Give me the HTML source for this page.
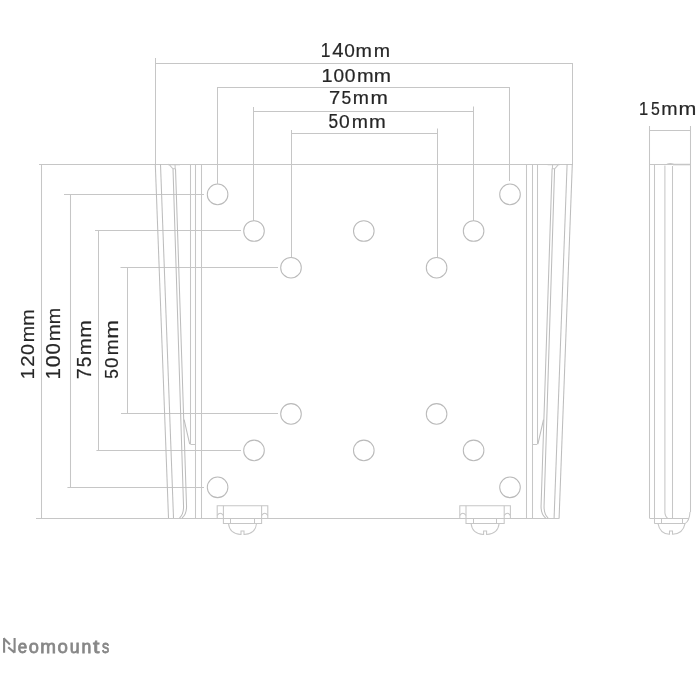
<!DOCTYPE html>
<html><head><meta charset="utf-8"><style>
html,body{margin:0;padding:0;background:#fff;width:700px;height:700px;overflow:hidden}
svg{display:block;will-change:transform}
.l{fill:none;stroke:#c6c6c6;stroke-width:1.05}
.c{fill:none;stroke:#bababa;stroke-width:1.05}
.s{fill:none;stroke:#bdbdbd;stroke-width:1.05}
.t{font-family:"Liberation Sans",sans-serif;fill:#262626;stroke:#262626;stroke-width:0.2}
.logo{font-family:"Liberation Sans",sans-serif;font-weight:normal;fill:#878787;stroke:#878787;stroke-width:0.8}
</style></head><body>
<svg width="700" height="700" viewBox="0 0 700 700">
<line x1="155.5" y1="58" x2="155.5" y2="164.3" class="l"/>
<line x1="572.5" y1="63" x2="572.5" y2="164.3" class="l"/>
<line x1="155" y1="63.5" x2="573" y2="63.5" class="l"/>
<line x1="217" y1="87.5" x2="509.5" y2="87.5" class="l"/>
<line x1="217.5" y1="87" x2="217.5" y2="183.8" class="l"/>
<line x1="509.5" y1="87" x2="509.5" y2="181" class="l"/>
<line x1="253.5" y1="111.5" x2="474" y2="111.5" class="l"/>
<line x1="253.5" y1="107" x2="253.5" y2="220.8" class="l"/>
<line x1="473.5" y1="106.5" x2="473.5" y2="220.8" class="l"/>
<line x1="291" y1="133.5" x2="437.5" y2="133.5" class="l"/>
<line x1="291.5" y1="130" x2="291.5" y2="257.2" class="l"/>
<line x1="437.5" y1="128.5" x2="437.5" y2="257.2" class="l"/>
<line x1="39" y1="164.5" x2="573" y2="164.5" class="l"/>
<line x1="36" y1="518.5" x2="559.5" y2="518.5" class="l"/>
<line x1="41.5" y1="164" x2="41.5" y2="518.0" class="l"/>
<line x1="64" y1="194.5" x2="204" y2="194.5" class="l"/>
<line x1="70.5" y1="194.4" x2="70.5" y2="487.3" class="l"/>
<line x1="67.4" y1="487.5" x2="204" y2="487.5" class="l"/>
<line x1="95" y1="230.5" x2="241" y2="230.5" class="l"/>
<line x1="98.5" y1="230.9" x2="98.5" y2="450.4" class="l"/>
<line x1="96.4" y1="450.5" x2="241" y2="450.5" class="l"/>
<line x1="120.5" y1="267.5" x2="278" y2="267.5" class="l"/>
<line x1="127.5" y1="267.9" x2="127.5" y2="413.9" class="l"/>
<line x1="121" y1="413.5" x2="278" y2="413.5" class="l"/>
<circle cx="217.6" cy="194.4" r="10.3" class="c"/>
<circle cx="510" cy="194.4" r="10.3" class="c"/>
<circle cx="254" cy="231.0" r="10.3" class="c"/>
<circle cx="363.8" cy="231.0" r="10.3" class="c"/>
<circle cx="473.6" cy="231.0" r="10.3" class="c"/>
<circle cx="291" cy="267.7" r="10.3" class="c"/>
<circle cx="436.6" cy="267.7" r="10.3" class="c"/>
<circle cx="291" cy="413.9" r="10.3" class="c"/>
<circle cx="436.6" cy="413.9" r="10.3" class="c"/>
<circle cx="254" cy="450.4" r="10.3" class="c"/>
<circle cx="363.8" cy="450.4" r="10.3" class="c"/>
<circle cx="473.6" cy="450.4" r="10.3" class="c"/>
<circle cx="217.6" cy="487.3" r="10.3" class="c"/>
<circle cx="510" cy="487.3" r="10.3" class="c"/>
<line x1="155.3" y1="164.3" x2="168.5" y2="518.0" class="s"/>
<line x1="160.5" y1="164.3" x2="173.5" y2="518.0" class="s"/>
<path d="M173,168.5 L183.5,505 Q184,514 179.5,518" class="s"/>
<path d="M175.5,168.5 L186.5,505 Q187,514 182,518" class="s"/>
<path d="M168.5,164 L172.8,168.7 M175,164 L175.2,168.7 M172.8,168.7 L175.4,168.7 M168,164.8 L180,164.8" class="l"/>
<line x1="190.5" y1="164.3" x2="190.5" y2="444.2" class="l"/>
<line x1="190.5" y1="444.5" x2="195.5" y2="444.5" class="l"/>
<path d="M184.1,419.7 L189.7,444.2" class="s"/>
<line x1="195.5" y1="164.3" x2="195.5" y2="518.0" class="l"/>
<line x1="201.5" y1="164.3" x2="201.5" y2="518.0" class="l"/>
<line x1="572.3" y1="164.3" x2="559.1" y2="518.0" class="s"/>
<line x1="567.1" y1="164.3" x2="554.1" y2="518.0" class="s"/>
<path d="M554.6,168.5 L544.1,505 Q543.6,514 548.1,518" class="s"/>
<path d="M552.1,168.5 L541.1,505 Q540.6,514 545.6,518" class="s"/>
<path d="M559.1,164 L554.8,168.7 M552.6,164 L552.4,168.7 M554.8,168.7 L552.2,168.7 M559.6,164.8 L547.6,164.8" class="l"/>
<line x1="537.5" y1="164.3" x2="537.5" y2="444.2" class="l"/>
<line x1="537.1" y1="444.5" x2="532.1" y2="444.5" class="l"/>
<path d="M543.5,419.7 L537.9,444.2" class="s"/>
<line x1="532.5" y1="164.3" x2="532.5" y2="518.0" class="l"/>
<line x1="526.5" y1="164.3" x2="526.5" y2="518.0" class="l"/>
<path d="M217.2,518.0 L217.2,505.8 L267.8,505.8 L267.8,518.0" class="l"/>
<path d="M217.2,515.5 Q220.2,511 223.4,515.5" class="l"/>
<path d="M267.8,515.5 Q264.8,511 261.6,515.5" class="l"/>
<path d="M223.4,505.8 L223.4,523.5 L261.6,523.5 L261.6,505.8" class="l"/>
<line x1="230.5" y1="518.0" x2="230.5" y2="523.5" class="l"/>
<line x1="254.5" y1="518.0" x2="254.5" y2="523.5" class="l"/>
<path d="M228.5,523.5 Q229.5,534 241.0,534.5 L241.0,531 L244.0,531 L244.0,534.5 Q255.5,534 256.5,523.5" class="l"/>
<path d="M459.8,518.0 L459.8,505.8 L510.40000000000003,505.8 L510.40000000000003,518.0" class="l"/>
<path d="M459.8,515.5 Q462.8,511 466.0,515.5" class="l"/>
<path d="M510.40000000000003,515.5 Q507.40000000000003,511 504.20000000000005,515.5" class="l"/>
<path d="M466.0,505.8 L466.0,523.5 L504.20000000000005,523.5 L504.20000000000005,505.8" class="l"/>
<line x1="473.5" y1="518.0" x2="473.5" y2="523.5" class="l"/>
<line x1="496.5" y1="518.0" x2="496.5" y2="523.5" class="l"/>
<path d="M471.1,523.5 Q472.1,534 483.6,534.5 L483.6,531 L486.6,531 L486.6,534.5 Q498.1,534 499.1,523.5" class="l"/>
<line x1="649.5" y1="126" x2="649.5" y2="518.0" class="l"/>
<line x1="690.5" y1="126" x2="690.5" y2="512" class="l"/>
<line x1="649.4" y1="130.5" x2="690" y2="130.5" class="l"/>
<line x1="649.4" y1="164.5" x2="690" y2="164.5" class="l"/>
<line x1="654.5" y1="164.3" x2="654.5" y2="523.6" class="l"/>
<path d="M664.9,165.5 L664.9,513 Q665.5,517 667.5,518" class="l"/>
<line x1="672.5" y1="166" x2="672.5" y2="518.0" class="l"/>
<path d="M690,512 Q689.5,521 685,523.6" class="l"/>
<line x1="649.4" y1="518.5" x2="689" y2="518.5" class="l"/>
<line x1="654.4" y1="523.5" x2="685" y2="523.5" class="l"/>
<line x1="661.5" y1="518.0" x2="661.5" y2="523.6" class="l"/>
<line x1="682.5" y1="518.0" x2="682.5" y2="523.6" class="l"/>
<path d="M658,523.6 Q660,534 669.5,534.2 L669.5,531 L672.5,531 L672.5,534.2 Q683,534 685,523.6" class="l"/>
<path d="M667,164.3 Q670,162.6 674,164.3 L690,164.3" class="l"/>
<path d="M673,164.8 L690,164.8" class="l"/>
<text x="320.72" y="56.7" textLength="9.67" lengthAdjust="spacingAndGlyphs" class="t" font-size="19.33">1</text>
<text x="332.29" y="56.7" textLength="11.26" lengthAdjust="spacingAndGlyphs" class="t" font-size="19.33">4</text>
<text x="344.31" y="56.7" textLength="10.59" lengthAdjust="spacingAndGlyphs" class="t" font-size="19.05">0</text>
<text x="355.54" y="56.7" textLength="16.41" lengthAdjust="spacingAndGlyphs" class="t" font-size="18.21">m</text>
<text x="373.85" y="56.7" textLength="16.29" lengthAdjust="spacingAndGlyphs" class="t" font-size="18.21">m</text>
<text x="321.53" y="82.0" textLength="11.09" lengthAdjust="spacingAndGlyphs" class="t" font-size="18.75">1</text>
<text x="333.61" y="82.0" textLength="10.59" lengthAdjust="spacingAndGlyphs" class="t" font-size="18.47">0</text>
<text x="344.80" y="82.0" textLength="10.70" lengthAdjust="spacingAndGlyphs" class="t" font-size="18.47">0</text>
<text x="357.12" y="82.0" textLength="16.64" lengthAdjust="spacingAndGlyphs" class="t" font-size="18.21">m</text>
<text x="373.68" y="82.0" textLength="17.24" lengthAdjust="spacingAndGlyphs" class="t" font-size="18.21">m</text>
<text x="329.11" y="104.4" textLength="11.26" lengthAdjust="spacingAndGlyphs" class="t" font-size="18.31">7</text>
<text x="341.55" y="104.4" textLength="9.74" lengthAdjust="spacingAndGlyphs" class="t" font-size="18.31">5</text>
<text x="352.66" y="104.4" textLength="16.17" lengthAdjust="spacingAndGlyphs" class="t" font-size="18.21">m</text>
<text x="370.47" y="104.4" textLength="17.36" lengthAdjust="spacingAndGlyphs" class="t" font-size="18.21">m</text>
<text x="328.46" y="127.8" textLength="9.62" lengthAdjust="spacingAndGlyphs" class="t" font-size="19.48">5</text>
<text x="339.10" y="127.8" textLength="10.70" lengthAdjust="spacingAndGlyphs" class="t" font-size="19.19">0</text>
<text x="351.66" y="127.8" textLength="16.17" lengthAdjust="spacingAndGlyphs" class="t" font-size="18.21">m</text>
<text x="369.11" y="127.8" textLength="16.76" lengthAdjust="spacingAndGlyphs" class="t" font-size="18.21">m</text>
<text x="639.10" y="115.4" textLength="9.16" lengthAdjust="spacingAndGlyphs" class="t" font-size="18.60">1</text>
<text x="651.12" y="115.4" textLength="8.80" lengthAdjust="spacingAndGlyphs" class="t" font-size="18.60">5</text>
<text x="661.25" y="115.4" textLength="16.29" lengthAdjust="spacingAndGlyphs" class="t" font-size="18.21">m</text>
<text x="678.63" y="115.4" textLength="17.83" lengthAdjust="spacingAndGlyphs" class="t" font-size="18.21">m</text>
<g transform="translate(33.5 378.6) rotate(-90)"><text x="-0.92" y="0" textLength="11.48" lengthAdjust="spacingAndGlyphs" class="t" font-size="19.19">1</text><text x="11.82" y="0" textLength="11.35" lengthAdjust="spacingAndGlyphs" class="t" font-size="18.90">2</text><text x="23.58" y="0" textLength="10.94" lengthAdjust="spacingAndGlyphs" class="t" font-size="18.90">0</text><text x="36.24" y="0" textLength="16.41" lengthAdjust="spacingAndGlyphs" class="t" font-size="18.21">m</text><text x="52.74" y="0" textLength="16.41" lengthAdjust="spacingAndGlyphs" class="t" font-size="18.21">m</text></g>
<g transform="translate(59.5 378.6) rotate(-90)"><text x="-0.92" y="0" textLength="11.48" lengthAdjust="spacingAndGlyphs" class="t" font-size="20.06">1</text><text x="11.42" y="0" textLength="11.75" lengthAdjust="spacingAndGlyphs" class="t" font-size="19.76">0</text><text x="24.06" y="0" textLength="11.29" lengthAdjust="spacingAndGlyphs" class="t" font-size="19.76">0</text><text x="37.29" y="0" textLength="17.00" lengthAdjust="spacingAndGlyphs" class="t" font-size="18.21">m</text><text x="54.34" y="0" textLength="16.41" lengthAdjust="spacingAndGlyphs" class="t" font-size="18.21">m</text></g>
<g transform="translate(90.6 378.6) rotate(-90)"><text x="-0.77" y="0" textLength="11.01" lengthAdjust="spacingAndGlyphs" class="t" font-size="19.33">7</text><text x="11.38" y="0" textLength="10.67" lengthAdjust="spacingAndGlyphs" class="t" font-size="19.33">5</text><text x="23.29" y="0" textLength="17.00" lengthAdjust="spacingAndGlyphs" class="t" font-size="18.21">m</text><text x="40.95" y="0" textLength="17.59" lengthAdjust="spacingAndGlyphs" class="t" font-size="18.21">m</text></g>
<g transform="translate(117.6 378.6) rotate(-90)"><text x="-0.04" y="0" textLength="9.62" lengthAdjust="spacingAndGlyphs" class="t" font-size="18.75">5</text><text x="10.51" y="0" textLength="10.47" lengthAdjust="spacingAndGlyphs" class="t" font-size="18.47">0</text><text x="23.39" y="0" textLength="15.81" lengthAdjust="spacingAndGlyphs" class="t" font-size="18.21">m</text><text x="39.85" y="0" textLength="18.78" lengthAdjust="spacingAndGlyphs" class="t" font-size="18.21">m</text></g>
<path d="M4.1,637.9 V652.7 M14.6,637.9 V652.7 M3.6,638.2 L10,644.6 M8.2,647.2 L14.6,652.6" style="fill:none;stroke:#878787;stroke-width:2.1"/>
<text x="17.68" y="652.6" textLength="9.48" lengthAdjust="spacingAndGlyphs" class="logo" font-size="19.2">e</text>
<text x="28.84" y="652.6" textLength="10.13" lengthAdjust="spacingAndGlyphs" class="logo" font-size="19.2">o</text>
<text x="40.35" y="652.6" textLength="15.69" lengthAdjust="spacingAndGlyphs" class="logo" font-size="19.2">m</text>
<text x="57.52" y="652.6" textLength="10.37" lengthAdjust="spacingAndGlyphs" class="logo" font-size="19.2">o</text>
<text x="69.85" y="652.6" textLength="9.82" lengthAdjust="spacingAndGlyphs" class="logo" font-size="19.2">u</text>
<text x="81.43" y="652.6" textLength="9.82" lengthAdjust="spacingAndGlyphs" class="logo" font-size="19.2">n</text>
<text x="92.95" y="652.6" textLength="6.42" lengthAdjust="spacingAndGlyphs" class="logo" font-size="19.2">t</text>
<text x="102.00" y="652.6" textLength="7.22" lengthAdjust="spacingAndGlyphs" class="logo" font-size="19.2">s</text>
</svg>

</body></html>
